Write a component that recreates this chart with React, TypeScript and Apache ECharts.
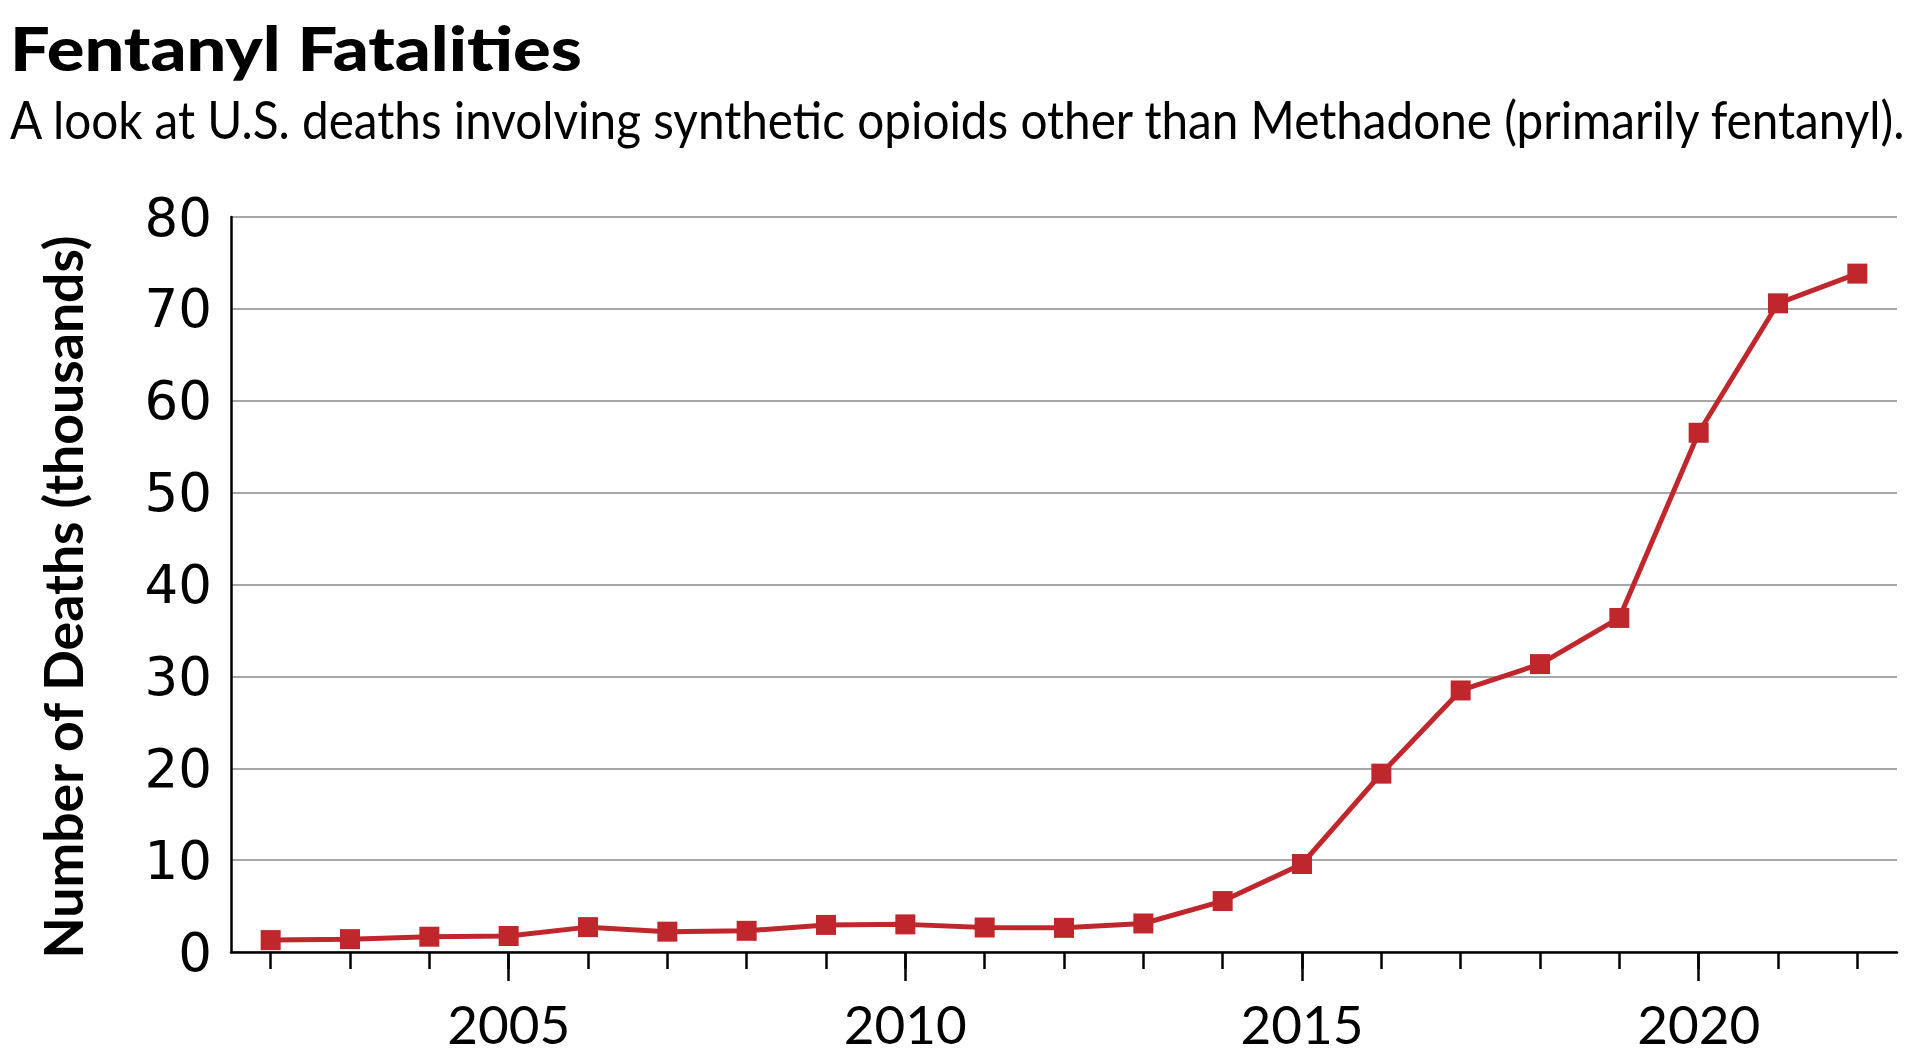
import React, { useEffect, useRef } from "react";
import * as echarts from "echarts";

const TITLE = "Fentanyl Fatalities";
const SUBTITLE =
  "A look at U.S. deaths involving synthetic opioids other than Methadone (primarily fentanyl).";
const Y_NAME = "Number of Deaths (thousands)";

const years = [
  "2002", "2003", "2004", "2005", "2006", "2007", "2008", "2009", "2010", "2011",
  "2012", "2013", "2014", "2015", "2016", "2017", "2018", "2019", "2020", "2021", "2022",
];
// deaths in thousands
const deaths = [
  1.295, 1.4, 1.664, 1.742, 2.707, 2.213, 2.306, 2.946, 3.007, 2.666,
  2.628, 3.105, 5.544, 9.58, 19.413, 28.466, 31.335, 36.359, 56.516, 70.601, 73.838,
];
const yMin = 0;
const yMax = 80;
const yStep = 10;
const labelEvery = 5;

const RED = "#c0272d";
const FONT = "Lato, 'Noto Sans', sans-serif";

function measure(text: string, font: string): number {
  const ctx = document.createElement("canvas").getContext("2d");
  if (!ctx) return 1;
  ctx.font = font;
  return ctx.measureText(text).width || 1;
}

export default function App() {
  const ref = useRef<HTMLDivElement>(null);

  useEffect(() => {
    if (!ref.current) return;
    const chart = echarts.init(ref.current, null, { renderer: "svg" });

    const titleSize = 60;
    const subSize = 52;
    const nameSize = 53;
    const titleScale = 572 / measure(TITLE, `900 ${titleSize}px ${FONT}`);
    const subScale = 1899 / measure(SUBTITLE, `${subSize}px ${FONT}`);
    const nameScale = 725 / measure(Y_NAME, `bold ${nameSize}px ${FONT}`);

    chart.setOption({
      animation: false,
      backgroundColor: "#ffffff",
      grid: { left: 231, top: 217, width: 1666, height: 735, containLabel: false },
      xAxis: [
        {
          type: "category",
          data: years,
          boundaryGap: true,
          axisLine: { show: true, lineStyle: { color: "#000", width: 2.5 } },
          axisTick: { show: true, alignWithLabel: true, interval: 0, length: 17, lineStyle: { color: "#000", width: 2.5 } },
          axisLabel: {
            show: true,
            interval: (i: number, v: string) => Number(v) % labelEvery === 0,
            margin: 49,
            lineHeight: 44,
            fontFamily: FONT,
            fontSize: 53,
            color: "#000",
          },
          splitLine: { show: false },
        },
        {
          type: "category",
          data: years,
          boundaryGap: true,
          position: "bottom",
          axisLine: { show: false },
          axisTick: {
            show: true,
            alignWithLabel: true,
            interval: (i: number, v: string) => Number(v) % labelEvery === 0,
            length: 29,
            lineStyle: { color: "#000", width: 2.5 },
          },
          axisLabel: { show: false },
          splitLine: { show: false },
        },
      ],
      yAxis: {
        type: "value",
        min: yMin,
        max: yMax,
        interval: yStep,
        axisLine: { show: true, lineStyle: { color: "#000", width: 2.5 } },
        axisTick: { show: false },
        axisLabel: {
          margin: 19,
          fontFamily: "'DejaVu Sans', sans-serif",
          fontSize: 53,
          color: "#000",
          padding: [12, 0, 0, 0],
        },
        splitLine: { show: true, lineStyle: { color: "#8a8a8a", width: 1.6 } },
      },
      series: [
        {
          type: "line",
          xAxisIndex: 0,
          data: deaths,
          symbol: "rect",
          symbolSize: 20,
          showSymbol: true,
          lineStyle: { color: RED, width: 5 },
          itemStyle: { color: RED },
          z: 5,
        },
      ],
      graphic: [
        {
          type: "text",
          x: 10,
          y: 48,
          scaleX: titleScale,
          style: {
            text: TITLE,
            fontFamily: FONT,
            fontWeight: 900,
            fontSize: titleSize,
            fill: "#000",
            textAlign: "left",
            textVerticalAlign: "middle",
            align: "left",
            verticalAlign: "middle",
          },
        },
        {
          type: "text",
          x: 10,
          y: 119,
          scaleX: subScale,
          style: {
            text: SUBTITLE,
            fontFamily: FONT,
            fontSize: subSize,
            fill: "#000",
            textAlign: "left",
            textVerticalAlign: "middle",
            align: "left",
            verticalAlign: "middle",
          },
        },
        {
          type: "text",
          x: 62,
          y: 597,
          rotation: Math.PI / 2,
          scaleX: nameScale,
          style: {
            text: Y_NAME,
            fontFamily: FONT,
            fontWeight: "bold",
            fontSize: nameSize,
            fill: "#000",
            textAlign: "center",
            textVerticalAlign: "middle",
            align: "center",
            verticalAlign: "middle",
          },
        },
      ],
    });

    return () => chart.dispose();
  }, []);

  return (
    <div
      ref={ref}
      style={{ position: "fixed", left: 0, top: 0, width: 1931, height: 1059, background: "#fff" }}
    />
  );
}
